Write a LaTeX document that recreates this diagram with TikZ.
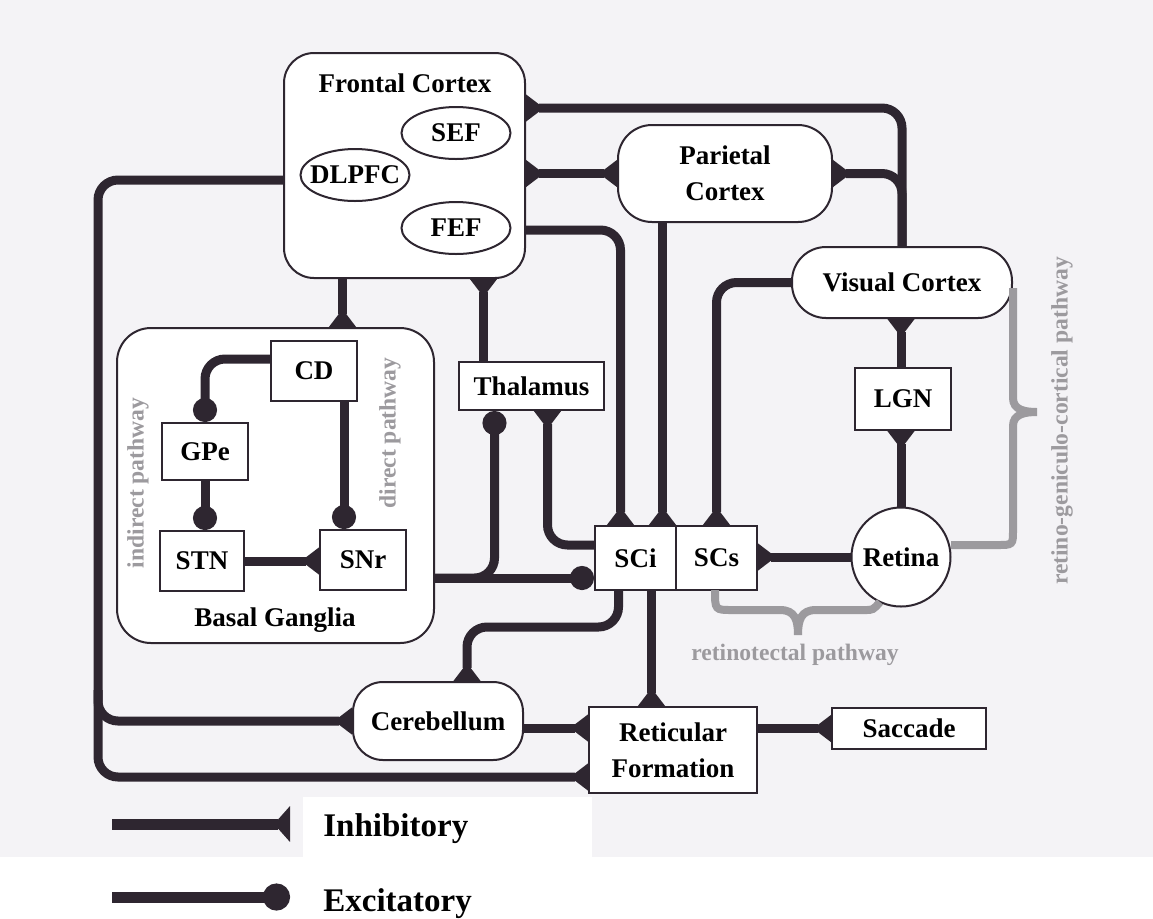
\documentclass[tikz,border=0pt]{standalone}
\usepackage{fontspec}
\setmainfont{Liberation Serif}
\usetikzlibrary{arrows.meta, calc, shapes.geometric}
\definecolor{ink}{HTML}{2E2630}
\definecolor{paper}{HTML}{F4F3F6}
\definecolor{pathgrey}{HTML}{9C9A9E}
\newcommand{\lbl}{\fontsize{13.5pt}{18pt}\selectfont\bfseries}
\newcommand{\pathfont}{\fontsize{11.8pt}{14pt}\selectfont\bfseries}
\newcommand{\legfont}{\fontsize{16.5pt}{20pt}\selectfont\bfseries}

\tikzset{
  box/.style={draw=ink, line width=1pt, fill=white, inner sep=0pt, font=\lbl, align=center},
  rbox/.style={box, rounded corners=15pt},
  oval/.style={box, ellipse, inner xsep=-4pt, minimum width=54.5pt, minimum height=26pt},
  conn/.style={ink, line width=4.5pt, rounded corners=10pt},
  inh/.style={conn, -{Triangle[reversed, length=9pt, width=13pt]}},
  inhboth/.style={conn, {Triangle[reversed, length=9pt, width=13pt]}-{Triangle[reversed, length=9pt, width=13pt]}},
  exc/.style={conn, -{Circle[length=12pt]}},
  gbrace/.style={pathgrey, line width=4pt},
  pathtxt/.style={pathgrey, font=\pathfont},
}

\begin{document}
\begin{tikzpicture}[x=0.5pt, y=-0.5pt]
\useasboundingbox (0,0) rectangle (1153,918);
%the scanned page
\fill[white] (0,0) rectangle (1153,918);
\fill[paper] (0,0) rectangle (1153,857);
\fill[white] (303,797) rectangle (592,857);

%the cortex
\node[rbox, minimum width=120.5pt, minimum height=112.5pt] (FC) at (404.5,165.5) {};
\node[font=\lbl] (FCt) at (405,83) {Frontal Cortex};
\node[oval] (SEF) at (456,133) {SEF};
\node[oval] (DLPFC) at (355,175) {DLPFC};
\node[oval] (FEF) at (456,228) {FEF};
\node[rbox, rounded corners=17pt, minimum width=107pt, minimum height=48.5pt] (PC) at (725,173.5) {Parietal\\Cortex};
\node[rbox, rounded corners=17pt, minimum width=110pt, minimum height=35.5pt] (VC) at (902,282.5) {Visual Cortex};

%the basal ganglia
\node[rbox, rounded corners=17pt, minimum width=158.5pt, minimum height=157.5pt] (BG) at (275.5,485.5) {};
\node[font=\lbl] (BGt) at (275,620) {Basal Ganglia};
\node[box, minimum width=43pt, minimum height=30pt] (CD) at (314,371) {CD};
\node[box, minimum width=43pt, minimum height=28.5pt] (GPe) at (205,451.5) {GPe};
\node[box, minimum width=42pt, minimum height=30pt] (STN) at (202,561) {STN};
\node[box, minimum width=43pt, minimum height=30pt] (SNr) at (363,560) {SNr};
\node[pathtxt, rotate=90] (ind) at (138,483) {indirect pathway};
\node[pathtxt, rotate=90] (dir) at (390,433) {direct pathway};

%thalamus, colliculus and the rest
\node[box, minimum width=72.5pt, minimum height=24pt] (TH) at (531.5,386) {Thalamus};
\node[box, minimum width=40.5pt, minimum height=32pt] (SCi) at (635.5,558) {SCi};
\node[box, minimum width=40.5pt, minimum height=32pt] (SCs) at (716.5,558) {SCs};
\node[box, minimum width=48pt, minimum height=31pt] (LGN) at (903,399) {LGN};
\node[box, circle, minimum size=49.5pt] (RT) at (901,557) {Retina};
\node[rbox, minimum width=85pt, minimum height=39pt] (CB) at (438,721) {Cerebellum};
\node[box, minimum width=84pt, minimum height=43pt] (RF) at (673,750) {Reticular\\Formation};
\node[box, minimum width=77pt, minimum height=20.5pt] (SAC) at (909,728.5) {Saccade};

%cortical connections
\draw[inh] (VC.north) |- (FC.east |- 0,108);
\draw[inhboth] (FC.east |- PC.west) -- (PC.west);
\draw[inh] (VC.north) |- (PC.east);
\coordinate (sci1) at ($(SCi.north)+(-15,0)$);
\draw[inh] (FC.east |- 0,230) -| (sci1);
\coordinate (sci2) at ($(SCi.north)+(27,0)$);
\draw[inh] (PC.south -| sci2) -- (sci2);
\draw[inh] (VC.west) -| (SCs.north);
\coordinate (bgin) at ($(FC.south)+(-62,0)$);
\draw[inh] (bgin) -- (bgin |- BG.north);
\coordinate (thout) at ($(TH.north)+(-48,0)$);
\draw[inh] (thout) -- (thout |- FC.south);

%inside the basal ganglia
\draw[exc] ($(CD.west)+(0,-12)$) -| (GPe.north);
\draw[exc] (GPe.south) -- (GPe.south |- STN.north);
\coordinate (cdsn) at ($(CD.south)+(30,0)$);
\draw[exc] (cdsn) -- (cdsn |- SNr.north);
\draw[inh] (STN.east) -- (STN.east -| SNr.west);

%output of the basal ganglia
\coordinate (scl) at ($(SCi.west)+(0,20)$);
\draw[exc] (BG.east |- scl) -- (scl);
\coordinate (thin) at ($(TH.south)+(-37,0)$);
\draw[exc] (BG.east |- scl) -| (thin);

%output of the colliculus
\coordinate (thsc) at ($(TH.south)+(16,0)$);
\draw[inh] ($(SCi.west)+(0,-13)$) -| (thsc);
\coordinate (cbin) at ($(CB.north)+(29,0)$);
\draw[inh] ($(SCi.south)+(-17,0)$) -- ++(0,36) -| (cbin);
\coordinate (rfin) at ($(SCi.south)+(16,0)$);
\draw[inh] (rfin) -- (rfin |- RF.north);

%visual pathway
\draw[inh] (RT.west) -- (RT.west -| SCs.east);
\draw[inh] (RT.north) -- (RT.north |- LGN.south);
\draw[inh] (RT.north |- LGN.north) -- (RT.north |- VC.south);

%down to the brainstem
\coordinate (lb) at (98,777);
\draw[inh] (FC.west |- 0,180) -| (lb) -- (lb -| RF.west);
\draw[inh] (98,690) |- (CB.west);
\coordinate (cbo) at ($(CB.east)+(0,7)$);
\draw[inh] (cbo) -- (cbo -| RF.west);
\draw[inh] (RF.east |- SAC.west) -- (SAC.west);

%the pathway braces
\draw[gbrace] (1013,288) -- (1013,398) .. controls (1013,410) and (1025,412) .. (1037,412)
  .. controls (1025,412) and (1013,414) .. (1013,426) -- (1013,530)
  .. controls (1013,545) .. (997,545) -- (951,545);
\node[pathtxt, rotate=90] (rgc) at (1062,421) {retino-geniculo-cortical pathway};
\draw[gbrace] (715,590) .. controls (715,610) .. (732,610) -- (780,610)
  .. controls (795,610) and (798,620) .. (798,635) .. controls (798,620) and (801,610) .. (816,610)
  -- (865,610) .. controls (873,610) .. (880,602);
\node[pathtxt] (rtp) at (795,655) {retinotectal pathway};

%legend
\node[font=\legfont, anchor=west, inner sep=0pt] (INH) at (323,829) {Inhibitory};
\node[font=\legfont, anchor=west, inner sep=0pt] (EXC) at (323,904) {Excitatory};
\coordinate (inh0) at (112,824);
\coordinate (inh1) at ($(INH.west)+(-33,0)$);
\draw[ink, line width=5.5pt, -{Triangle[reversed, length=8pt, width=17.5pt]}] (inh0) -- (inh0 -| inh1);
\coordinate (exc0) at (112,897);
\coordinate (exc1) at ($(EXC.west)+(-33,0)$);
\draw[ink, line width=5.5pt, -{Circle[length=13.5pt]}] (exc0) -- (exc0 -| exc1);
\end{tikzpicture}
\end{document}
